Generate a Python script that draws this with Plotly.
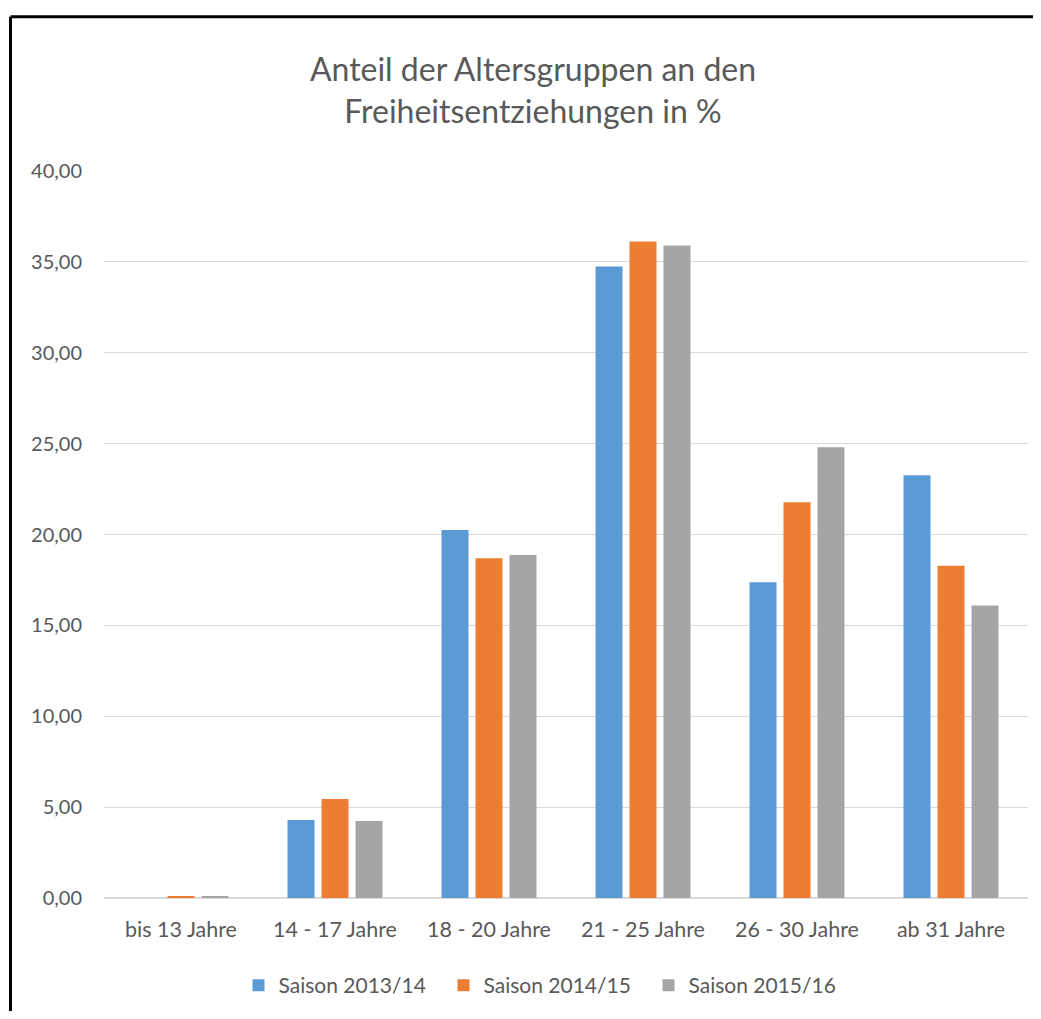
import plotly.graph_objects as go

categories = ["bis 13 Jahre", "14 - 17 Jahre", "18 - 20 Jahre", "21 - 25 Jahre", "26 - 30 Jahre", "ab 31 Jahre"]
series_names = ["Saison 2013/14", "Saison 2014/15", "Saison 2015/16"]
s2013 = [0.0, 4.29, 20.25, 34.75, 17.37, 23.26]
s2014 = [0.10, 5.45, 18.70, 36.12, 21.77, 18.28]
s2015 = [0.10, 4.24, 18.87, 35.90, 24.80, 16.10]
colors = ["#5B9BD5", "#ED7D31", "#A5A5A5"]

# page body has an 8px margin; figure sized to fit inside the window
OFF = 8
W, H = 1041 - 2 * OFF, 1019 - 2 * OFF
PL, PR, PT, PB = 104, 1028, 171, 901  # plot area in screen px
L, R, T, B = PL - OFF, W - (PR - OFF), PT - OFF, H - (PB - OFF)
pw, ph = W - L - R, H - T - B

def px_x(x):
    return (x - OFF - L) / pw

def px_y(y):
    return (H - B - (y - OFF)) / ph

fig = go.Figure()
for name, vals, col in zip(series_names, [s2013, s2014, s2015], colors):
    fig.add_trace(go.Bar(x=categories, y=vals, name=name,
                         marker=dict(color=col, line=dict(width=0))))

font_family = "Lato, 'Open Sans', sans-serif"
txt = "#595959"

fig.update_layout(
    width=W, height=H,
    margin=dict(l=L, r=R, t=T, b=B),
    paper_bgcolor="white", plot_bgcolor="white",
    barmode="group", bargap=0.338, bargroupgap=0.206,
    separators=",.",
    font=dict(family=font_family, color=txt, size=20),
    title=dict(text="Anteil der Altersgruppen an den<br>Freiheitsentziehungen in %",
               x=px_x(533), xref="paper", xanchor="center",
               y=1 - 73 / H, yref="container", yanchor="middle",
               font=dict(family=font_family, size=32, color=txt)),
    showlegend=True,
    legend=dict(orientation="h", x=px_x(546), xanchor="center",
                y=px_y(989), yanchor="middle",
                font=dict(family=font_family, size=21, color=txt),
                traceorder="normal", entrywidth=160, entrywidthmode="pixels"),
    xaxis=dict(showgrid=False, showline=True, linecolor="#D9D9D9", linewidth=1,
               ticks="", tickfont=dict(size=21.5, color=txt), ticklabelstandoff=12),
    yaxis=dict(range=[0, 40], dtick=5, tickformat=".2f", showgrid=True,
               gridcolor="#D9D9D9", gridwidth=1, zeroline=True, zerolinecolor="#D9D9D9",
               showline=False, ticks="", tickfont=dict(size=20, color=txt),
               ticklabelstandoff=21),
    shapes=[
        dict(type="line", xref="paper", yref="paper",
             x0=px_x(10.5), x1=px_x(1060), y0=px_y(16), y1=px_y(16),
             line=dict(color="black", width=3)),
        dict(type="line", xref="paper", yref="paper",
             x0=px_x(10.5), x1=px_x(10.5), y0=px_y(16), y1=px_y(1040),
             line=dict(color="black", width=3)),
    ],
)

fig.write_html("out.html")
